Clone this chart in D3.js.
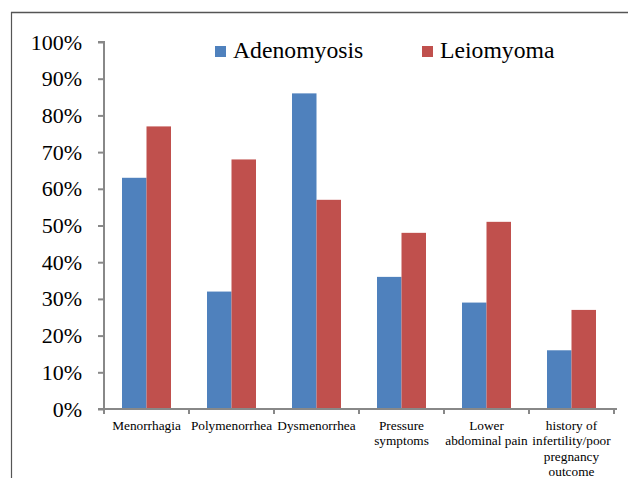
<!DOCTYPE html>
<html>
<head>
<meta charset="utf-8">
<script src="https://cdn.jsdelivr.net/npm/d3@7"></script>
<style>
  body { margin: 0; background: #fff; }
  svg { display: block; }
  svg text { font-family: 'Liberation Serif', 'Times New Roman', 'DejaVu Serif', serif; }
</style>
</head>
<body>
<svg class="barChart" width="628" height="478"></svg>
<script>
var categories = [
  ['Menorrhagia'],
  ['Polymenorrhea'],
  ['Dysmenorrhea'],
  ['Pressure', 'symptoms'],
  ['Lower', 'abdominal pain'],
  ['history of', 'infertility/poor', 'pregnancy', 'outcome']
];
var seriesNames = ['Adenomyosis', 'Leiomyoma'];
var adenomyosis = [63, 32, 86, 36, 29, 16];
var leiomyoma = [77, 68, 57, 48, 51, 27];
var yTicks = [0, 10, 20, 30, 40, 50, 60, 70, 80, 90, 100];

var colors = ['#4F81BD', '#C0504D'];

var svg = d3.select('svg.barChart');

// outer frame (only top and left edges are visible in the picture)
svg.append('line').attr('x1', 11).attr('x2', 628).attr('y1', 12.5).attr('y2', 12.5)
  .attr('stroke', '#555').attr('stroke-width', 1.5);
svg.append('line').attr('x1', 11.5).attr('x2', 11.5).attr('y1', 12).attr('y2', 478)
  .attr('stroke', '#555').attr('stroke-width', 1.2);

var plotLeft = 104, plotRight = 614, plotTop = 42, plotBottom = 409;

var x = d3.scaleBand()
  .domain(d3.range(categories.length))
  .range([plotLeft, plotRight]);

var inner = d3.scaleBand()
  .domain(seriesNames)
  .range([0, x.bandwidth()])
  .paddingOuter(0.735);

var y = d3.scaleLinear().domain([0, 100]).range([plotBottom, plotTop]);

var rows = categories.map(function(c, i) {
  return { i: i, values: [adenomyosis[i], leiomyoma[i]] };
});

var groups = svg.append('g').selectAll('g')
  .data(rows)
  .enter()
  .append('g')
  .attr('transform', function(d) { return 'translate(' + x(d.i) + ',0)'; });

groups.selectAll('rect')
  .data(function(d) { return d.values.map(function(v, k) { return { name: seriesNames[k], value: v, k: k }; }); })
  .enter()
  .append('rect')
  .attr('x', function(d) { return inner(d.name); })
  .attr('width', inner.bandwidth())
  .attr('y', function(d) { return y(d.value); })
  .attr('height', function(d) { return plotBottom - y(d.value); })
  .attr('fill', function(d) { return colors[d.k]; });

// y axis
var yAxis = svg.append('g')
  .attr('transform', 'translate(' + plotLeft + ',0)')
  .call(d3.axisLeft(y).tickValues(yTicks).tickSize(6).tickPadding(16)
    .tickFormat(function(d) { return d + '%'; }));
yAxis.attr('font-family', null);
yAxis.select('.domain').attr('stroke', '#888').attr('stroke-width', 2)
  .attr('d', 'M-6,' + plotTop + 'H0V' + plotBottom);
yAxis.selectAll('.tick line').attr('stroke', '#888').attr('stroke-width', 2);
yAxis.selectAll('.tick text')
  .attr('font-size', 22).attr('fill', '#000');

// x axis
var xAxis = svg.append('g');
xAxis.append('line').attr('x1', plotLeft - 6).attr('x2', plotRight + 3)
  .attr('y1', plotBottom).attr('y2', plotBottom)
  .attr('stroke', '#888').attr('stroke-width', 2);
xAxis.selectAll('line.tick')
  .data(d3.range(categories.length + 1))
  .enter()
  .append('line')
  .attr('class', 'tick')
  .attr('x1', function(d) { return d < categories.length ? x(d) : x(d - 1) + x.bandwidth(); })
  .attr('x2', function(d) { return d < categories.length ? x(d) : x(d - 1) + x.bandwidth(); })
  .attr('y1', plotBottom).attr('y2', plotBottom + 5)
  .attr('stroke', '#888').attr('stroke-width', 2);

xAxis.selectAll('text')
  .data(rows)
  .enter()
  .append('text')
  .attr('text-anchor', 'middle')
  .attr('font-size', 13.3)
  .attr('fill', '#000')
  .each(function(d) {
    var t = d3.select(this);
    categories[d.i].forEach(function(line, j) {
      t.append('tspan')
        .attr('x', x(d.i) + x.bandwidth() / 2)
        .attr('y', 429.5 + j * 15.5)
        .text(line);
    });
  });

// legend
var legend = svg.append('g');
var legendX = [215, 422];
seriesNames.forEach(function(name, k) {
  legend.append('rect')
    .attr('x', legendX[k]).attr('y', 46)
    .attr('width', 11).attr('height', 11)
    .attr('fill', colors[k]);
  legend.append('text')
    .attr('x', legendX[k] + 18).attr('y', 57.5)
    .attr('font-size', 23.7)
    .attr('fill', '#000')
    .text(name);
});
</script>
</body>
</html>
